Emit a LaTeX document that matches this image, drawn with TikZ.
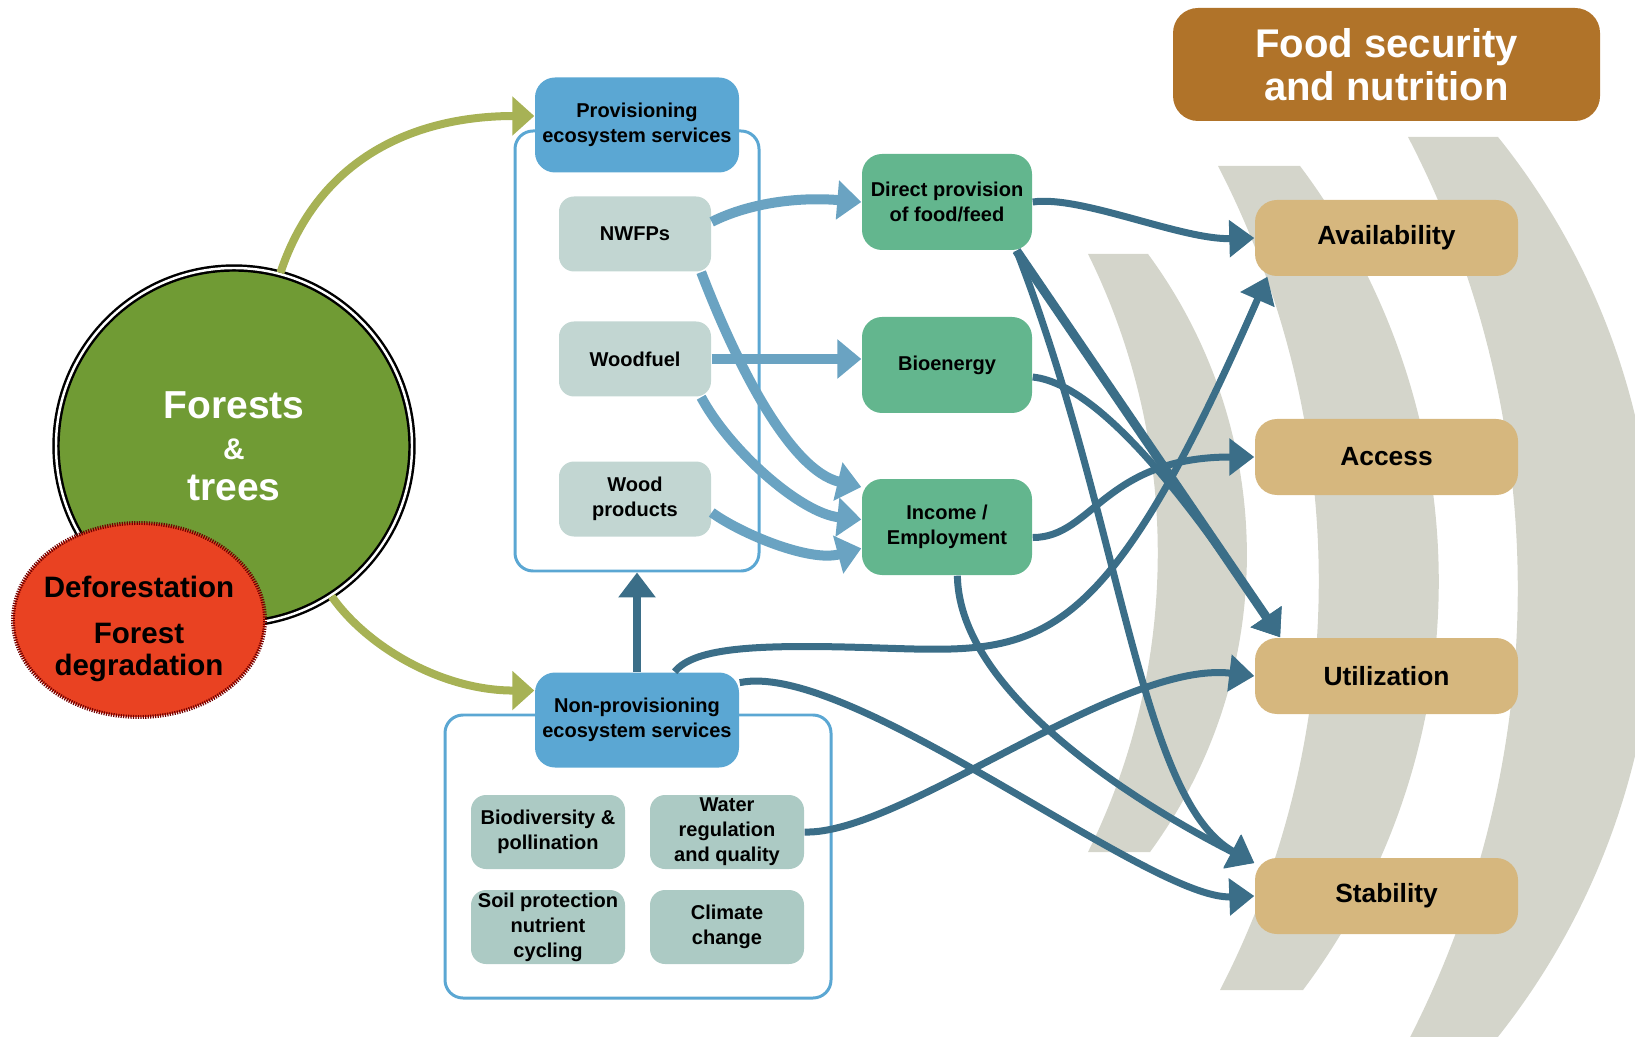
\documentclass[tikz,border=0pt]{standalone}
\usepackage{fontspec}
\setmainfont{Liberation Sans}
\usepackage{tikz}
\usepackage{xcolor}
\usetikzlibrary{arrows.meta}
\usetikzlibrary{shapes.geometric}
\definecolor{forestgreen}{RGB}{112,155,52}
\definecolor{deforred}{RGB}{233,66,34}
\definecolor{olivearrow}{RGB}{167,178,85}
\definecolor{headblue}{RGB}{91,167,211}
\definecolor{itemgrey}{RGB}{194,214,210}
\definecolor{itemgreen}{RGB}{172,202,196}
\definecolor{boxgreen}{RGB}{99,182,142}
\definecolor{lightarrow}{RGB}{106,163,194}
\definecolor{darkarrow}{RGB}{59,110,136}
\definecolor{fsntan}{RGB}{214,183,126}
\definecolor{fsnbrown}{RGB}{176,115,41}
\definecolor{bandgrey}{RGB}{212,213,203}

\begin{document}
\begin{tikzpicture}[
	lbl/.style={font=\bfseries\fontsize{5.7}{7.1}\selectfont, align=center, inner sep=0pt},
	item/.style={lbl, fill=itemgrey, rounded corners=1.5mm, minimum width=1.52cm, minimum height=0.75cm},
	npitem/.style={lbl, fill=itemgreen, rounded corners=1.5mm, minimum width=1.54cm, minimum height=0.74cm},
	head/.style={lbl, fill=headblue, rounded corners=2mm, minimum width=2.04cm, minimum height=0.95cm},
	outcome/.style={lbl, fill=boxgreen, rounded corners=2mm, minimum width=1.70cm, minimum height=0.96cm},
	pillar/.style={fill=fsntan, font=\bfseries\fontsize{7.5}{9}\selectfont, rounded corners=2.2mm, minimum width=2.63cm, minimum height=0.76cm},
	container/.style={draw=headblue, line width=0.85pt, rounded corners=1.8mm, inner sep=0pt},
	oarr/.style={draw=olivearrow, line width=0.8mm, -{Triangle[length=2.2mm,width=3.8mm]}},
	larr/.style={draw=lightarrow, line width=1mm, -{Triangle[length=2.4mm,width=3.8mm]}},
	darr/.style={draw=darkarrow, line width=0.7mm, -{Triangle[length=2.5mm,width=3.6mm]}}]
			\path[use as bounding box] (0,0) rectangle (16.35,10.36);
			\clip (0,0) rectangle (16.35,10.36);
			\fill[bandgrey] (10.88,7.82) .. controls (11.81,5.94) and (11.81,3.72) .. (10.88,1.84) -- (11.50,1.84) .. controls (12.80,3.62) and (12.79,6.04) .. (11.48,7.82) -- cycle;
			\fill[bandgrey] (12.18,8.70) .. controls (13.51,6.12) and (13.53,3.04) .. (12.20,0.46) -- (13.03,0.46) .. controls (14.86,2.90) and (14.83,6.26) .. (13.00,8.70) -- cycle;
			\fill[bandgrey] (14.08,8.99) .. controls (15.55,6.16) and (15.54,2.76) .. (14.07,-0.07) -- (14.93,-0.07) .. controls (17.07,2.57) and (17.10,6.35) .. (14.98,8.99) -- cycle;
			\node[fill=fsnbrown, text=white, font=\bfseries\fontsize{11.4}{12.2}\selectfont, align=center, rounded corners=2.5mm, minimum width=4.27cm, minimum height=1.13cm] (fsn) at (13.865,9.715) {Food security\\and nutrition};
			\node[pillar] (avail) at (13.865,7.98) {Availability};
			\node[pillar] (access) at (13.865,5.79) {Access};
			\node[pillar] (util) at (13.865,3.60) {Utilization};
			\node[pillar] (stab) at (13.865,1.40) {Stability};
			\node[container, minimum width=2.44cm, minimum height=4.40cm] (provbox) at (6.37,6.85) {};
			\node[container, minimum width=3.86cm, minimum height=2.83cm] (nonprovbox) at (6.38,1.795) {};
			\node[head] (prov) at (6.37,9.11) {Provisioning\\ecosystem services};
			\node[item] (nwfp) at (6.35,8.02) {NWFPs};
			\node[item] (woodfuel) at (6.35,6.77) {Woodfuel};
			\node[item] (woodprod) at (6.35,5.37) {Wood\\products};
			\node[outcome] (direct) at (9.47,8.34) {Direct provision\\of food/feed};
			\node[outcome] (bio) at (9.47,6.71) {Bioenergy};
			\node[outcome] (income) at (9.47,5.09) {Income /\\Employment};
			\node[head] (nonprov) at (6.37,3.16) {Non-provisioning\\ecosystem services};
			\node[npitem] (biodiv) at (5.48,2.04) {Biodiversity \&\\pollination};
			\node[npitem] (water) at (7.27,2.04) {Water\\regulation\\and quality};
			\node[npitem] (soil) at (5.48,1.09) {Soil protection\\nutrient\\cycling};
			\node[npitem] (climate) at (7.27,1.09) {Climate\\change};
			\node[circle, fill=forestgreen, draw=black, double=white, double distance=0.7pt, line width=0.7pt, minimum size=3.56cm, inner sep=0pt, text=white, align=center, font=\bfseries\fontsize{11.1}{11.6}\selectfont] (forest) at (2.34,5.90) {Forests\\{\fontsize{8.5}{11.6}\selectfont\&}\\trees};
			\node[ellipse, fill=deforred, draw=red!45!black, line width=1.1pt, dash pattern=on 0.35pt off 0.35pt, minimum width=2.52cm, minimum height=1.94cm, inner sep=0pt] (defor) at (1.39,4.16) {};
			\node[align=center, inner sep=0pt, font=\bfseries\fontsize{8.4}{9.2}\selectfont] (defortext) at (1.39,4.07) {Deforestation\\[4pt]Forest\\degradation};
			\draw[oarr] (forest.75) .. controls +(0.4,1.2) and +(-1.13,0) .. (prov.175);
			\draw[oarr] (forest.-57) .. controls +(0.35,-0.5) and +(-0.93,0) .. (nonprov.164);
			\draw[larr] (nwfp.9) .. controls +(0.4,0.2) and +(-0.6,0.05) .. (direct.west);
			\draw[larr] (nwfp.-30) .. controls +(0.34,-0.89) and +(-0.72,0.17) .. (income.155);
			\draw[larr] (woodfuel.east) -- (woodfuel.east -| bio.west);
			\draw[larr] (woodfuel.-30) .. controls +(0.29,-0.54) and +(-0.6,0.06) .. (income.175);
			\draw[larr] (woodprod.-10) .. controls +(0.29,-0.21) and +(-0.52,-0.14) .. (income.194);
			\draw[darr] (direct.east) .. controls +(0.48,0.07) and +(-0.73,-0.02) .. (avail.west);
			\draw[darr, line width=0.9mm] (direct.-35) -- (util.160);
			\draw[darr] (bio.-8) .. controls +(0.78,-0.08) and +(-0.62,0.91) .. (util.160);
			\draw[darr] (direct.-35) .. controls +(1.05,-2.70) and +(-1.15,0.63) .. (stab.166);
			\draw[darr] (income.-78) .. controls +(0.02,-1.25) and +(-0.95,0.48) .. (stab.166);
			\draw[darr] (income.-7) .. controls +(0.6,0) and +(-1.5,0) .. (access.west);
			\draw[darr] (nonprov.52) .. controls +(0.2,0.25) and (7.6,3.92) .. (8.8,3.88) .. controls (10.4,3.83) and (11.0,3.76) .. (avail.198);
			\draw[darr] (nonprov.20) .. controls +(1.11,0.23) and +(-1.05,-0.04) .. (stab.west);
			\draw[darr] (water.east) .. controls +(0.96,-0.03) and +(-1.35,0.16) .. (util.west);
			\draw[darr, line width=0.8mm] (nonprov.north) -- (provbox.south);
		\end{tikzpicture}
\end{document}
